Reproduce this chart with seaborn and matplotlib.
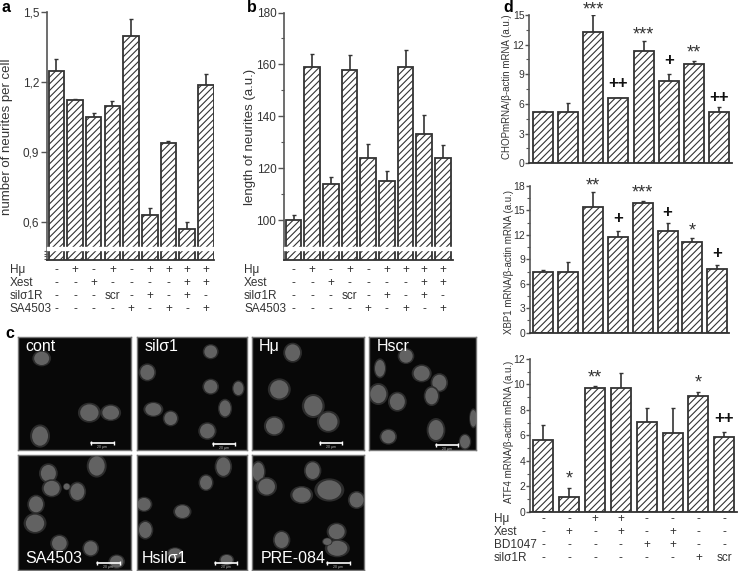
import numpy as np
import matplotlib
matplotlib.use('Agg')
import matplotlib.pyplot as plt
from matplotlib.patches import Ellipse
from matplotlib.transforms import blended_transform_factory
import seaborn as sns

W, H = 738, 571

# panel a
a_vals = [1.25, 1.125, 1.05, 1.10, 1.40, 0.63, 0.94, 0.57, 1.19]
a_tops = [1.30, 1.13, 1.07, 1.12, 1.47, 0.66, 0.95, 0.60, 1.235]
a_ticks = [0.6, 0.9, 1.2, 1.5]
a_ticklabels = ['0,6', '0,9', '1,2', '1,5']
# panel b
b_vals = [100, 159, 114, 158, 124, 115, 159, 133, 124]
b_tops = [102, 164, 116.5, 163.5, 129.5, 119, 165.5, 140.5, 129]
b_ticks = [100, 120, 140, 160, 180]
# treatment tables under a and b
ab_rows = ['Hμ', 'Xest', 'silσ1R', 'SA4503']
ab_hmu = ['-', '+', '-', '+', '-', '+', '+', '+', '+']
ab_xest = ['-', '-', '+', '-', '-', '-', '-', '+', '+']
ab_sil = ['-', '-', '-', 'scr', '-', '+', '-', '+', '-']
ab_sa = ['-', '-', '-', '-', '+', '-', '+', '-', '+']

# panel d
chop_vals = [5.2, 5.2, 13.3, 6.6, 11.4, 8.3, 10.0, 5.2]
chop_tops = [5.25, 6.1, 15.0, 6.65, 12.4, 9.0, 10.3, 5.65]
chop_marks = ['', '', '***', '++', '***', '+', '**', '++']
chop_mark_y = [0, 0, 15.5, 8.1, 13.0, 10.4, 11.2, 6.7]
xbp_vals = [7.5, 7.5, 15.4, 11.8, 15.9, 12.5, 11.1, 7.8]
xbp_tops = [7.7, 8.7, 17.3, 12.5, 16.2, 13.4, 11.6, 8.3]
xbp_marks = ['', '', '**', '+', '***', '+', '*', '+']
xbp_mark_y = [0, 0, 18.0, 14.0, 17.2, 14.8, 12.5, 9.7]
atf_vals = [5.6, 1.15, 9.7, 9.7, 7.05, 6.2, 9.1, 5.85]
atf_tops = [6.8, 1.9, 9.85, 10.9, 8.15, 8.15, 9.4, 6.25]
atf_marks = ['', '*', '**', '', '', '', '*', '++']
atf_mark_y = [0, 2.6, 10.5, 0, 0, 0, 10.1, 7.3]
d_rows = ['Hμ', 'Xest', 'BD1047', 'silσ1R']
d_hmu = ['-', '-', '+', '+', '-', '-', '-', '-']
d_xest = ['-', '+', '-', '+', '-', '+', '-', '-']
d_bd = ['-', '-', '-', '-', '+', '+', '-', '-']
d_sil = ['-', '-', '-', '-', '-', '-', '+', 'scr']

# panel c micrographs: label, cells (x, y, w, h)
cont_cells = [(72, 65, 45, 40), (215, 228, 55, 50), (279, 228, 50, 42), (67, 298, 48, 58)]
sil_cells = [(222, 45, 38, 38), (32, 107, 42, 45), (222, 150, 40, 40), (305, 155, 30, 40),
             (50, 218, 48, 38), (102, 245, 38, 40), (265, 215, 34, 48), (212, 283, 44, 44)]
hmu_cells = [(121, 48, 45, 50), (81, 158, 55, 55), (183, 208, 55, 60), (228, 255, 55, 55), (66, 268, 50, 50)]
hscr_cells = [(111, 58, 40, 40), (33, 95, 30, 50), (158, 110, 48, 45), (211, 138, 42, 48),
              (28, 172, 48, 55), (85, 195, 45, 50), (188, 178, 38, 50), (201, 280, 45, 60),
              (58, 300, 42, 40), (288, 315, 30, 40), (313, 245, 20, 50)]
sa_cells = [(92, 54, 45, 50), (237, 32, 48, 58), (102, 99, 48, 45), (179, 109, 42, 50), (147, 94, 18, 18),
            (55, 147, 42, 48), (52, 204, 55, 52), (125, 264, 44, 44), (219, 279, 40, 42), (297, 319, 40, 36)]
hsil_cells = [(260, 34, 42, 55), (208, 82, 36, 42), (22, 147, 40, 38), (137, 169, 44, 38),
              (26, 224, 38, 48), (115, 294, 40, 30), (270, 314, 36, 30)]
pre_cells = [(18, 49, 35, 55), (43, 94, 50, 48), (181, 46, 42, 50), (148, 119, 55, 45), (231, 104, 72, 58),
             (313, 134, 42, 45), (253, 229, 48, 45), (88, 254, 42, 48), (255, 279, 60, 45), (225, 259, 25, 20)]

sns.set_style('ticks')
plt.rcParams['font.family'] = ['Liberation Sans', 'DejaVu Sans']
plt.rcParams['hatch.linewidth'] = 0.8
plt.rcParams['hatch.color'] = '#333333'

DARK = '#333333'
fig = plt.figure(figsize=(W / 100, H / 100), dpi=100)


def px_axes(l, t, r, b):
    return fig.add_axes([l / W, 1 - b / H, (r - l) / W, (b - t) / H])


def bar_panel(box, c0, step, bar_w, vals, tops, ymin, ymax, tick_size=8.5, tick_len=4, pad=1.5):
    ax = px_axes(*box)
    sns.barplot(x=list(range(len(vals))), y=vals, color='white', edgecolor=DARK,
                linewidth=1.3, width=bar_w / step, saturation=1, ax=ax, zorder=2)
    for p in ax.patches:
        p.set_hatch('/////')
    x = np.arange(len(vals))
    up = np.array(tops) - np.array(vals)
    ax.errorbar(x, vals, yerr=[np.zeros_like(up), up], fmt='none', ecolor=DARK,
                elinewidth=1.2, capsize=1.5, capthick=1, zorder=1)
    ax.set_xlim((box[0] - c0) / step, (box[2] - c0) / step)
    ax.set_ylim(ymin, ymax)
    ax.set_xticks([])
    ax.patch.set_alpha(0)
    for s in ['top', 'right']:
        ax.spines[s].set_visible(False)
    ax.spines['left'].set_color('#555555')
    ax.spines['left'].set_linewidth(1.2)
    ax.spines['bottom'].set_color(DARK)
    ax.spines['bottom'].set_linewidth(1.3)
    ax.tick_params(axis='y', labelsize=tick_size, length=tick_len, width=1, color='#555555',
                   labelcolor=DARK, pad=pad)
    ax.tick_params(axis='y', which='minor', length=2.5, width=0.8, color='#555555')
    return ax


def table(ax, rows, columns, ys, label_x, size=8.5):
    trans = blended_transform_factory(ax.transData, fig.transFigure)
    for name, col, py in zip(rows, columns, ys):
        fig.text(label_x / W, 1 - py / H, name, fontsize=size, color=DARK, va='center', ha='left')
        for i, s in enumerate(col):
            ax.text(i, 1 - py / H, s, transform=trans, fontsize=size, color=DARK,
                    ha='center', va='center', clip_on=False)


def marks(ax, labels, ys):
    for i, (m, y) in enumerate(zip(labels, ys)):
        if m == '':
            continue
        if '+' in m:
            ax.text(i, y, m, ha='center', va='center', fontsize=12, fontweight='bold', color='#111111')
        else:
            ax.text(i, y, m, ha='center', va='center', fontsize=13, color=DARK)


def ylabel(px, py, text, size):
    fig.text(px / W, 1 - py / H, text, rotation=90, fontsize=size, color=DARK, ha='center', va='center')


# a
ax_a = bar_panel((47, 12.5, 214, 260), 56.4, 18.67, 15.5, a_vals, a_tops, 0.437, 1.5)
ax_a.set_yticks(a_ticks)
ax_a.set_yticklabels(a_ticklabels)
ax_a.set_yticks([0.442, 0.453, 0.464, 0.475], minor=True)
ax_a.axhspan(0.480, 0.4927, color='white', zorder=5, clip_on=False)
table(ax_a, ab_rows, [ab_hmu, ab_xest, ab_sil, ab_sa], [270, 283, 296, 309], 10)
ylabel(7, 137, 'number of neurites per cell', 9.5)

# b
ax_b = bar_panel((284, 12.5, 452.7, 260), 293.5, 18.67, 15.5, b_vals, b_tops, 84.6, 180)
ax_b.set_yticks(b_ticks)
ax_b.set_yticks([110, 130, 150, 170], minor=True)
ax_b.axhspan(88.45, 89.6, color='white', zorder=5, clip_on=False)
table(ax_b, ab_rows, [ab_hmu, ab_xest, ab_sil, ab_sa], [270, 283, 296, 309], 244)
ylabel(250, 137, 'length of neurites (a.u.)', 9.5)

# d
ax_chop = bar_panel((529.3, 15, 731.7, 163.3), 542.7, 25.2, 20, chop_vals, chop_tops, 0, 15,
                    tick_size=7.5, tick_len=3, pad=0.5)
ax_chop.set_yticks([0, 3, 6, 9, 12, 15])
ax_chop.set_yticks([1.5, 4.5, 7.5, 10.5, 13.5], minor=True)
marks(ax_chop, chop_marks, chop_mark_y)
ylabel(507, 87, 'CHOPmRNA/β-actin mRNA (a.u.)', 7)

ax_xbp = bar_panel((530, 186, 729, 332.7), 543.3, 24.86, 20, xbp_vals, xbp_tops, 0, 18,
                   tick_size=7.5, tick_len=3, pad=0.5)
ax_xbp.set_yticks([0, 3, 6, 9, 12, 15, 18])
ax_xbp.set_yticks([1.5, 4.5, 7.5, 10.5, 13.5, 16.5], minor=True)
marks(ax_xbp, xbp_marks, xbp_mark_y)
ylabel(509, 262, 'XBP1 mRNA/β-actin mRNA (a.u.)', 7)

ax_atf = bar_panel((530, 359, 737, 511.7), 543.3, 25.86, 20, atf_vals, atf_tops, 0, 12,
                   tick_size=7.5, tick_len=3, pad=0.5)
ax_atf.set_yticks([0, 2, 4, 6, 8, 10, 12])
ax_atf.set_yticks([1, 3, 5, 7, 9, 11], minor=True)
marks(ax_atf, atf_marks, atf_mark_y)
ylabel(509, 432, 'ATF4 mRNA/β-actin mRNA (a.u.)', 7)
table(ax_atf, d_rows, [d_hmu, d_xest, d_bd, d_sil], [519, 532, 545, 558], 494)

# c
panels = [
    ('cont', (17.7, 336.7, 131.3, 450), cont_cells, (221, 320), (8, 10)),
    ('silσ1', (136.7, 336.7, 247, 450), sil_cells, (228, 323), (8, 10)),
    ('Hμ', (252.3, 336.7, 363.7, 450), hmu_cells, (203, 319), (6, 10)),
    ('Hscr', (369, 336.7, 476, 450), hscr_cells, (201, 324), (8, 10)),
    ('SA4503', (17.7, 455.3, 131.3, 570), sa_cells, (239, 324), (8, 103)),
    ('Hsilσ1', (136.7, 455.3, 247, 570), hsil_cells, (235, 324), (5, 103)),
    ('PRE-084', (252.3, 455.3, 363.7, 570), pre_cells, (225, 322), (8, 103)),
]
for name, box, cells, bar, txt in panels:
    ax = px_axes(*box)
    pw = (box[2] - box[0]) * 3
    ph = (box[3] - box[1]) * 3
    ax.set_xlim(0, pw)
    ax.set_ylim(ph, 0)
    ax.set_facecolor('#080808')
    ax.set_xticks([])
    ax.set_yticks([])
    for s in ax.spines.values():
        s.set_color('#777777')
        s.set_linewidth(1)
    for cx, cy, w, h in cells:
        ax.add_patch(Ellipse((cx, cy), w * 1.25, h * 1.2, color='#2c2c2c', lw=0))
        ax.add_patch(Ellipse((cx, cy), w, h, color='#626262', lw=0))
    ax.plot([bar[0], bar[0] + 67], [bar[1], bar[1]], color='white', lw=1.2,
            marker='|', ms=3, mew=1)
    ax.text(bar[0] + 33, bar[1] + 12, '20 μm', color='#bbbbbb', fontsize=2.5, ha='center', va='center')
    ax.text(txt[0] * 3, txt[1] * 3, name, color='white', fontsize=11.5, ha='left', va='center')

# panel letters
for s, x, y in [('a', 2, 8), ('b', 247, 8), ('c', 5, 333), ('d', 503, 8)]:
    fig.text(x / W, 1 - y / H, s, fontsize=11.5, fontweight='bold', color='black', va='center')

fig.savefig('out.png', dpi=100)
